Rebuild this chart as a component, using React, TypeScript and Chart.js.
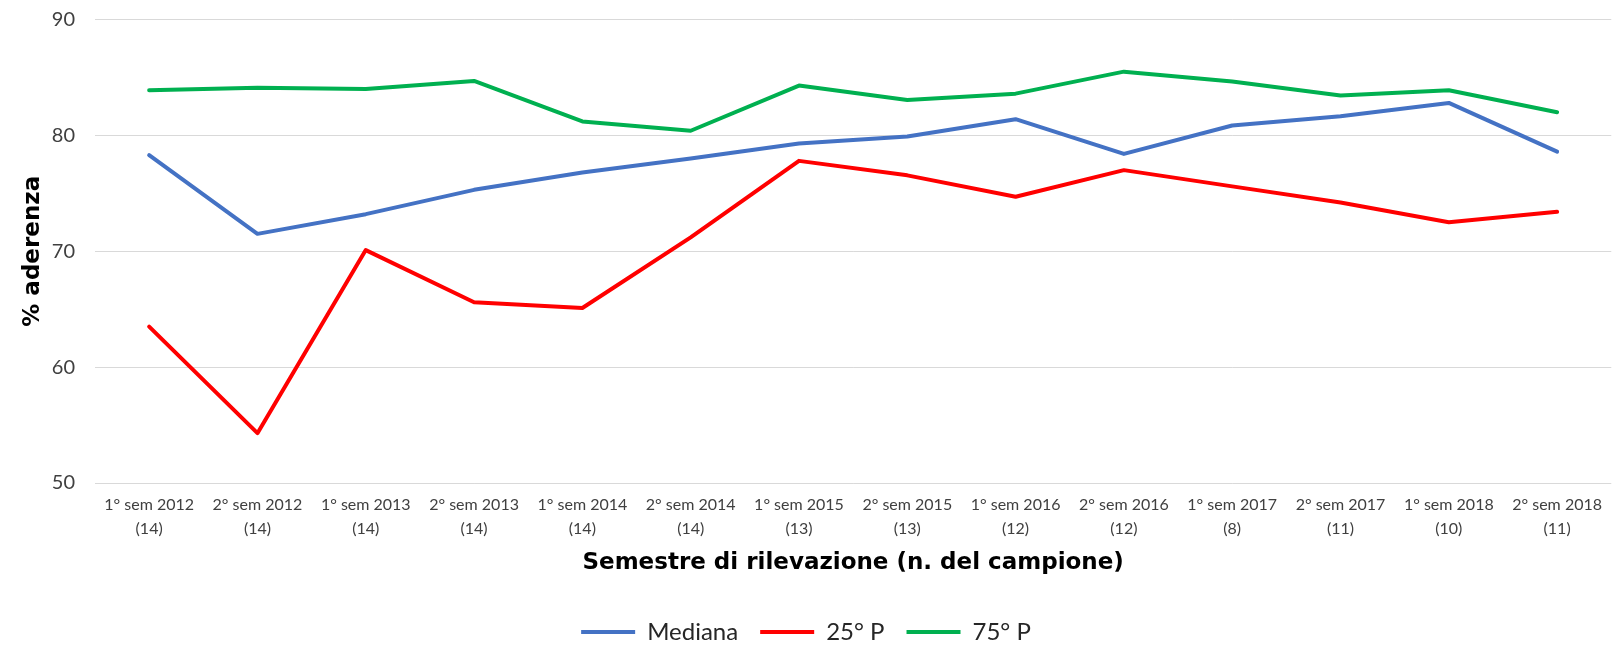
import React, { useEffect, useRef } from "react";
import { Chart, registerables } from "chart.js";

Chart.register(...registerables);

const semesters = [
  "1° sem 2012", "2° sem 2012", "1° sem 2013", "2° sem 2013", "1° sem 2014", "2° sem 2014", "1° sem 2015",
  "2° sem 2015", "1° sem 2016", "2° sem 2016", "1° sem 2017", "2° sem 2017", "1° sem 2018", "2° sem 2018",
];
const sampleSizes = [14, 14, 14, 14, 14, 14, 13, 13, 12, 12, 8, 11, 10, 11];

const mediana = [78.3, 71.5, 73.2, 75.3, 76.8, 78.0, 79.3, 79.9, 81.4, 78.4, 80.85, 81.65, 82.8, 78.6];
const p25 = [63.5, 54.3, 70.1, 65.6, 65.1, 71.2, 77.8, 76.55, 74.7, 77.0, 75.6, 74.2, 72.5, 73.4];
const p75 = [83.9, 84.1, 84.0, 84.7, 81.2, 80.4, 84.3, 83.05, 83.6, 85.5, 84.65, 83.45, 83.9, 82.0];

const yTicks = [50, 60, 70, 80, 90];

const FONT = "Lato, 'Open Sans', sans-serif";
const BOLD_FONT = "'DejaVu Sans', sans-serif";

export default function App() {
  const ref = useRef<HTMLCanvasElement | null>(null);

  useEffect(() => {
    document.body.style.margin = "0";
    const canvas = ref.current;
    if (!canvas) return;
    const labels = semesters.map((s, i) => [s, `(${sampleSizes[i]})`]);
    const mk = (label: string, data: number[], color: string) => ({
      label,
      data,
      borderColor: color,
      backgroundColor: color,
      borderWidth: 4,
      pointRadius: 0,
      pointHoverRadius: 0,
      tension: 0,
      borderCapStyle: "round" as const,
      borderJoinStyle: "round" as const,
      fill: false,
    });
    const chart = new Chart(canvas, {
      type: "line",
      data: {
        labels,
        datasets: [
          mk("Mediana", mediana, "#4472C4"),
          mk("25° P", p25, "#FF0000"),
          mk("75° P", p75, "#00B050"),
        ],
      },
      options: {
        animation: false,
        responsive: false,
        layout: { padding: { top: 19.5, left: 0, right: 0, bottom: -8 } },
        plugins: {
          tooltip: { enabled: false },
          legend: {
            position: "bottom",
            labels: {
              usePointStyle: true,
              pointStyle: "line",
              pointStyleWidth: 54,
              boxHeight: 24,
              color: "#262626",
              font: { family: FONT, size: 24 },
              padding: 22,
            },
          },
        },
        scales: {
          x: {
            offset: true,
            afterFit: (axis: any) => {
              axis.height = 115;
            },
            grid: { display: false, drawTicks: false },
            border: { display: false },
            ticks: {
              color: "#404040",
              font: { family: FONT, size: 16, lineHeight: 1.5 },
              padding: 10,
              maxRotation: 0,
              autoSkip: false,
            },
            title: {
              display: true,
              text: "Semestre di rilevazione (n. del campione)",
              color: "#000000",
              font: { family: BOLD_FONT, size: 23, weight: "bold" },
              padding: { top: 0, bottom: 21.5 },
            },
          },
          y: {
            min: 50,
            max: 90,
            afterFit: (axis: any) => {
              axis.width = 95;
              axis.paddingTop = 0;
              axis.paddingBottom = 0;
            },
            afterBuildTicks: (axis: any) => {
              axis.ticks = yTicks.map((v) => ({ value: v }));
            },
            grid: { color: "#D9D9D9", lineWidth: 1, drawTicks: false },
            border: { display: false },
            ticks: {
              color: "#404040",
              font: { family: FONT, size: 20 },
              padding: 20,
            },
            title: {
              display: true,
              text: "% aderenza",
              color: "#000000",
              font: { family: BOLD_FONT, size: 23, weight: "bold" },
              padding: { top: 19, bottom: 0 },
            },
          },
        },
      },
    });
    return () => chart.destroy();
  }, []);

  return (
    <div style={{ width: 1612, height: 646, background: "#ffffff" }}>
      <canvas ref={ref} width={1612} height={646} />
    </div>
  );
}
